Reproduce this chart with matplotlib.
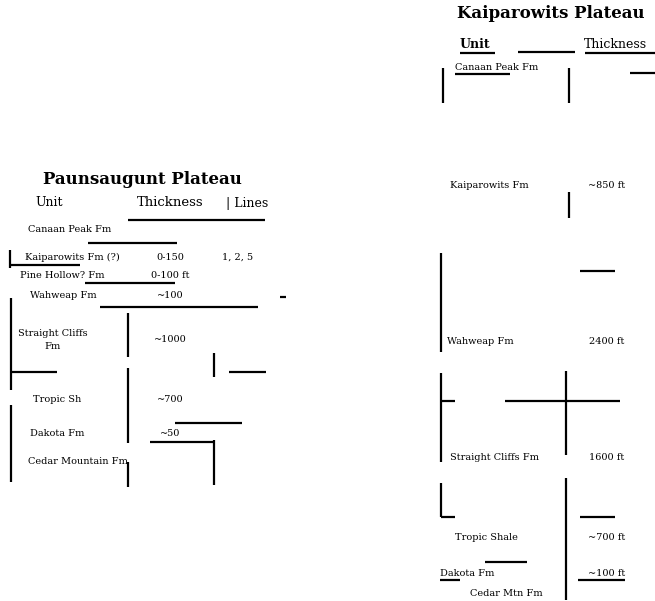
import matplotlib
matplotlib.use("Agg")
import matplotlib.pyplot as plt

# stratigraphic units and thicknesses, Paunsaugunt Plateau
paun_units = ["Canaan Peak Fm", "Kaiparowits Fm (?)", "Pine Hollow? Fm", "Wahweap Fm",
              "Straight Cliffs\nFm", "Tropic Sh", "Dakota Fm", "Cedar Mountain Fm"]
paun_thick = ["", "0-150", "0-100 ft", "~100", "~1000", "~700", "~50", ""]
paun_lines = ["", "1, 2, 5", "", "", "", "", "", ""]

# Kaiparowits Plateau
kaip_units = ["Canaan Peak Fm", "Kaiparowits Fm", "Wahweap Fm", "Straight Cliffs Fm",
              "Tropic Shale", "Dakota Fm", "Cedar Mtn Fm"]
kaip_thick = ["", "~850 ft", "2400 ft", "1600 ft", "~700 ft", "~100 ft", ""]

# layout (pixel rows)
paun_rows = [230, 257, 275, 295, 340, 400, 434, 462]
paun_unit_x = [28, 25, 20, 30, 18, 33, 30, 28]
kaip_rows = [68, 185, 341, 457, 537, 573, 593]
kaip_unit_x = [455, 450, 447, 450, 455, 440, 470]

serif = ["DejaVu Serif"]

fig = plt.figure(figsize=(6.55, 6.01), dpi=100)
ax = fig.add_axes([0, 0, 1, 1])
ax.set_xlim(0, 655)
ax.set_ylim(601, 0)
ax.axis("off")

# titles and headers
ax.text(142, 180, "Paunsaugunt Plateau", fontsize=12, fontweight="bold",
        family=serif, ha="center", va="center")
ax.text(35, 203, "Unit", fontsize=9, family=serif, va="center")
ax.text(137, 203, "Thickness", fontsize=9.5, family=serif, va="center")
ax.text(226, 203, "| Lines", fontsize=9, family=serif, va="center")

ax.text(551, 14, "Kaiparowits Plateau", fontsize=12, fontweight="bold",
        family=serif, ha="center", va="center")
ax.text(460, 44, "Unit", fontsize=9, fontweight="bold", family=serif, va="center")
ax.text(584, 44, "Thickness", fontsize=9, family=serif, va="center")

for name, th, ln, y, x in zip(paun_units, paun_thick, paun_lines, paun_rows, paun_unit_x):
    ax.text(x, y, name, fontsize=7, family=serif, va="center", ha="left",
            multialignment="center", linespacing=1.7)
    if th:
        ax.text(170, y, th, fontsize=7, family=serif, va="center", ha="center")
    if ln:
        ax.text(238, y, ln, fontsize=7, family=serif, va="center", ha="center")

for name, th, y, x in zip(kaip_units, kaip_thick, kaip_rows, kaip_unit_x):
    ax.text(x, y, name, fontsize=7, family=serif, va="center", ha="left")
    if th:
        ax.text(607, y, th, fontsize=7, family=serif, va="center", ha="center")

# table rules
segments = [
    # Paunsaugunt
    (128, 220, 265, 220), (88, 243, 177, 243), (10, 250, 10, 268), (10, 265, 80, 265),
    (85, 283, 175, 283), (100, 307, 258, 307), (128, 313, 128, 357),
    (11, 298, 11, 390), (11, 405, 11, 482), (11, 372, 57, 372),
    (214, 353, 214, 377), (229, 372, 266, 372), (128, 368, 128, 443),
    (175, 423, 242, 423), (150, 442, 214, 442), (214, 440, 214, 485),
    (128, 462, 128, 487), (280, 297, 286, 297),
    # Kaiparowits
    (518, 52, 575, 52), (460, 53, 495, 53), (585, 53, 655, 53),
    (455, 74, 510, 74),
    (443, 68, 443, 103), (569, 68, 569, 103), (630, 73, 655, 73),
    (569, 192, 569, 218), (441, 253, 441, 352), (580, 271, 615, 271),
    (441, 373, 441, 462), (441, 401, 455, 401), (505, 401, 620, 401),
    (566, 371, 566, 455), (566, 478, 566, 600),
    (441, 483, 441, 517), (441, 517, 455, 517), (580, 517, 615, 517),
    (485, 562, 527, 562), (440, 580, 460, 580), (578, 580, 625, 580),
]
for x0, y0, x1, y1 in segments:
    ax.plot([x0, x1], [y0, y1], color="black", lw=1.6, solid_capstyle="butt")

fig.savefig("out.png", dpi=100, facecolor="white")
